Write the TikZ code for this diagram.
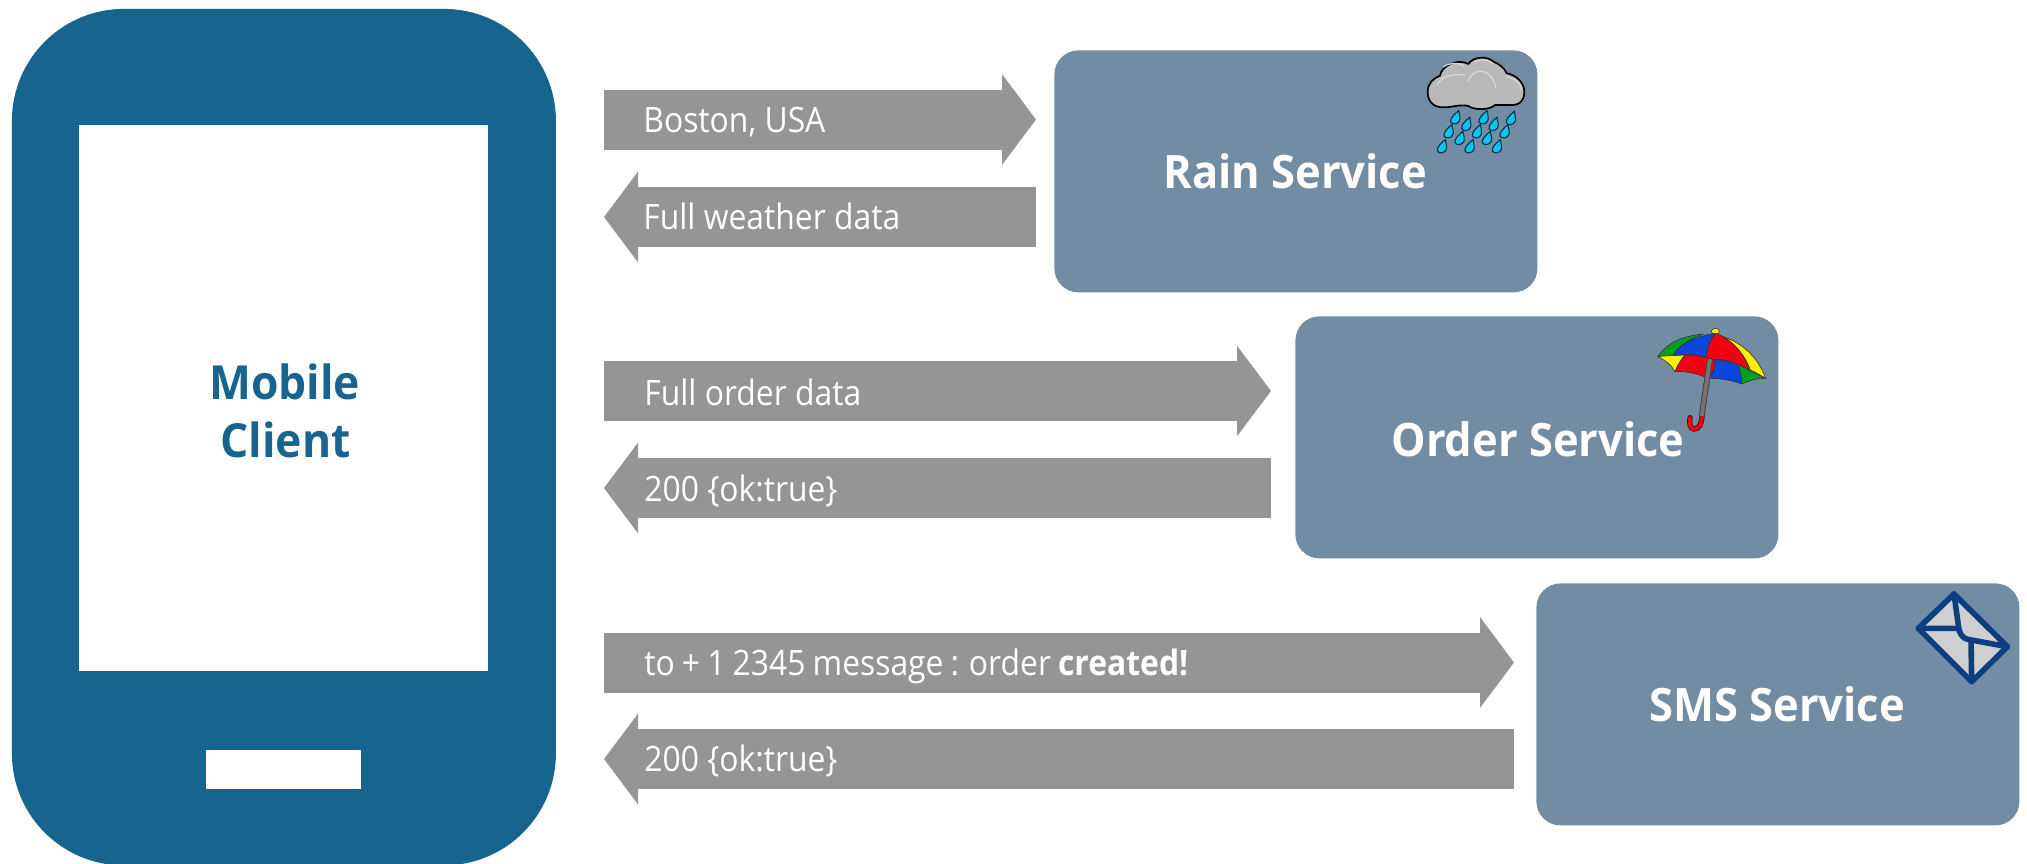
\documentclass[tikz,border=0pt]{standalone}
\usepackage{fontspec}
\setmainfont{Open Sans}[FakeStretch=0.91]
\newfontfamily\titlefont{Open Sans}[FakeStretch=0.945]
\usetikzlibrary{arrows.meta}
\definecolor{phoneblue}{HTML}{17648F}
\definecolor{svcblue}{HTML}{728CA3}
\definecolor{arrowgray}{HTML}{959595}
\definecolor{envblue}{HTML}{0B3F82}
\definecolor{envgray}{HTML}{CFCFCF}
\definecolor{cloudgray}{HTML}{B9B9B9}
\definecolor{dropcyan}{HTML}{08C4F2}
\definecolor{dropedge}{HTML}{06304A}
\definecolor{umbgreen}{HTML}{00A020}
\definecolor{umbblue}{HTML}{0A45DC}
\definecolor{umbred}{HTML}{F00010}
\definecolor{umbyellow}{HTML}{FFF000}
\tikzset{
  service/.style={rectangle,fill=svcblue,rounded corners=12pt,minimum width=241.5pt,minimum height=121pt,inner sep=0pt,anchor=north west},
  svctext/.style={anchor=base west,inner sep=0pt,text=white,font=\fontsize{23}{28}\selectfont\titlefont\bfseries},
  msgtext/.style={anchor=base west,inner sep=0pt,text=white,font=\fontsize{17.5}{21}\selectfont},
  phonetext/.style={anchor=base west,inner sep=0pt,text=phoneblue,font=\fontsize{23.5}{28}\selectfont\titlefont\bfseries},
  blockarrow/.style={draw=arrowgray,line width=30pt,-{Triangle[length=17pt,width=44.5pt]}},
  umb/.style={draw=black!80,line width=0.3pt,line join=round},
}
\begin{document}
\begin{tikzpicture}[x=0.5pt,y=-0.5pt]
\useasboundingbox (0,0) rectangle (2027,863);
\fill[white] (0,0) rectangle (2027,863);
% phone
\begin{scope}
\clip (0,0) rectangle (2027,863);
\node[rectangle,fill=phoneblue,rounded corners=56pt,minimum width=272pt,minimum height=428.25pt,inner sep=0pt,anchor=north west] (phone) at (11.5,8.5) {};
\end{scope}
\node[rectangle,fill=white,minimum width=204.5pt,minimum height=273pt,inner sep=0pt,anchor=north west] (screen) at (79,125) {};
\node[rectangle,fill=white,minimum width=77.5pt,minimum height=19.5pt,inner sep=0pt,anchor=north west] (homebtn) at (206,750) {};
\node[phonetext] (mobile) at (209,399) {Mobile};
\node[phonetext] (client) at (220,457) {Client};
% services
\node[service] (rain) at (1054,50) {};
\node[service] (order) at (1295,316) {};
\node[service] (sms) at (1536,583) {};
\node[svctext] (raintext) at (1163,188) {Rain Service};
\node[svctext] (ordertext) at (1391,456) {Order Service};
\node[svctext] (smstext) at (1649,721) {SMS Service};
% arrow ends
\coordinate (a1s) at (604,119.5);  \coordinate (a1e) at (1036,119.5);
\coordinate (b1s) at (1036,217);   \coordinate (b1e) at (604,217);
\coordinate (a2s) at (604,391);    \coordinate (a2e) at (1271,391);
\coordinate (b2s) at (1271,488);   \coordinate (b2e) at (604,488);
\coordinate (a3s) at (604,662.5);  \coordinate (a3e) at (1514,662.5);
\coordinate (b3s) at (1514,759);   \coordinate (b3e) at (604,759);
\foreach \p/\q in {a1s/a1e,b1s/b1e,a2s/a2e,b2s/b2e,a3s/a3e,b3s/b3e}
  \draw[blockarrow] (\p) -- (\q);
\node[msgtext] (m1) at (643,132) {Boston, USA};
\node[msgtext] (m2) at (643,229) {Full weather data};
\node[msgtext] (m3) at (644,405.5) {Full order data};
\node[msgtext] (m4) at (644,501) {200 \{ok:true\}};
\node[msgtext] (m5) at (644,675) {\spaceskip=0.86\fontdimen2\font to + 1 2345 message : order \textbf{created!}};
\node[msgtext] (m6) at (644,771) {200 \{ok:true\}};
% cloud and rain
\begin{scope}[shift={(1390,30)},scale=0.3333]
\draw[draw=black,fill=cloudgray,line width=0.85pt,line join=round]
  (113,185) .. controls (113,160) and (130,145) .. (150,137)
  .. controls (155,105) and (205,85) .. (235,102)
  .. controls (250,78) and (295,78) .. (310,95)
  .. controls (325,100) and (345,115) .. (350,130)
  .. controls (380,135) and (403,160) .. (403,185)
  .. controls (403,215) and (385,228) .. (355,225)
  .. controls (335,225) and (325,225) .. (315,225)
  .. controls (300,240) and (255,242) .. (235,228)
  .. controls (210,222) and (190,232) .. (160,232)
  .. controls (130,232) and (113,215) .. (113,185) -- cycle;
\draw[white!45!cloudgray,line width=0.6pt,line cap=round]
  (142,165) .. controls (150,140) and (190,130) .. (225,135)
  (160,110) .. controls (175,100) and (200,95) .. (222,108)
  (235,155) .. controls (240,120) and (300,100) .. (318,175)
  (255,95) .. controls (275,85) and (295,90) .. (308,100)
  (350,140) .. controls (375,145) and (392,160) .. (395,178);
\foreach \dx/\dy in {195/263,280/263,362/265,228/283,310/283,175/305,260/305,343/305,208/325,290/325,155/350,238/350,320/350}
  \draw[draw=dropedge,fill=dropcyan,line width=0.55pt,shift={(\dx,\dy)}]
    (11,-21) .. controls (13,-8) and (17,2) .. (13,10)
    .. controls (8,20) and (-8,22) .. (-13,13)
    .. controls (-16,3) and (0,-13) .. (11,-21) -- cycle;
\end{scope}
% umbrella
\begin{scope}[shift={(1640,310)},scale=0.3333]
\fill[umbyellow,draw=black!80,line width=0.3pt] (226,64) ellipse [x radius=12,y radius=9];
\draw[umb,fill=umbgreen] (53,140) .. controls (85,95) and (130,78) .. (190,72) .. controls (140,90) and (110,112) .. (98,140) -- cycle;
\draw[umb,fill=umbblue] (98,140) .. controls (115,105) and (165,78) .. (226,70) .. controls (210,90) and (200,115) .. (198,147) .. controls (165,132) and (130,130) .. (98,140) -- cycle;
\draw[umb,fill=umbyellow] (250,80) .. controls (310,100) and (355,145) .. (377,205) .. controls (360,195) and (345,185) .. (330,180) .. controls (320,145) and (290,105) .. (250,80) -- cycle;
\draw[umb,fill=umbred] (226,70) .. controls (275,85) and (315,135) .. (330,180) .. controls (290,155) and (240,145) .. (198,147) .. controls (200,115) and (210,90) .. (226,70) -- cycle;
\draw[umb,fill=umbgreen] (292,165) .. controls (310,170) and (345,190) .. (377,205) .. controls (350,205) and (325,212) .. (305,222) .. controls (305,200) and (300,180) .. (292,165) -- cycle;
\draw[umb,fill=umbblue] (215,148) .. controls (245,148) and (270,155) .. (292,165) .. controls (300,180) and (305,200) .. (305,222) .. controls (275,210) and (240,205) .. (205,205) -- cycle;
\draw[umb,fill=umbyellow] (53,140) .. controls (75,137) and (105,137) .. (135,135) .. controls (122,150) and (112,168) .. (105,185) .. controls (95,165) and (75,150) .. (53,140) -- cycle;
\draw[umb,fill=umbred] (135,135) .. controls (160,133) and (185,138) .. (225,150) .. controls (225,175) and (218,195) .. (205,205) .. controls (170,190) and (135,182) .. (105,185) .. controls (112,168) and (122,150) .. (135,135) -- cycle;
\draw[draw=black!70!umbred,line width=2.6pt,line cap=round] (186,320) .. controls (184,345) and (175,358) .. (162,357) .. controls (150,356) and (147,340) .. (150,323);
\draw[draw=umbred,line width=1.9pt,line cap=round] (186,320) .. controls (184,345) and (175,358) .. (162,357) .. controls (150,356) and (147,340) .. (150,323);
\draw[draw=black!75,line width=2.9pt] (210,148) -- (185,318);
\draw[draw=black!55!white,line width=2pt] (210,148) -- (185,318);
\end{scope}
% envelope
\begin{scope}[shift={(1890,570)},scale=0.3333]
\draw[draw=envblue,fill=envgray,line width=2.8pt,line join=round,line cap=round]
  (192,72) -- (85,175) -- (245,335) -- (352,230) -- cycle;
\draw[draw=envblue,line width=2.8pt,line join=round,line cap=round]
  (192,72) -- (207,180) .. controls (212,195) and (220,205) .. (233,208) -- (352,230)
  (85,175) -- (207,175)
  (245,335) -- (243,210);
\end{scope}
\end{tikzpicture}
\end{document}
